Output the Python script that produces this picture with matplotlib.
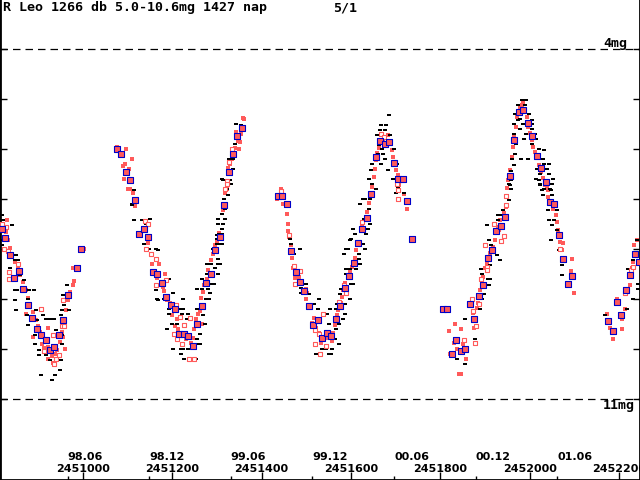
import numpy as np
import matplotlib
matplotlib.use("Agg")
import matplotlib.pyplot as plt
from matplotlib.path import Path

# R Leo light curve, JD - 2450000 and visual magnitude
JD0 = 2450000

# visual estimates (black)
vis = np.array([
    (818, 7.32), (821, 7.42), (841, 7.52), (816, 7.62), (818, 7.82), (818, 7.92),
    (843, 8.12), (850, 8.12), (848, 8.22), (854, 8.22), (836, 8.38), (859, 8.52),
    (868, 8.62), (848, 8.82), (852, 8.82), (879, 8.82), (890, 8.82), (848, 9.02),
    (877, 9.00), (850, 9.22), (895, 9.22), (874, 9.32), (910, 9.32), (877, 9.52),
    (897, 9.42), (917, 9.40), (926, 9.40), (935, 9.40), (892, 9.72), (901, 9.62),
    (892, 9.90), (901, 10.02), (917, 10.12), (901, 10.12), (926, 10.22), (951, 10.22),
    (906, 10.52), (937, 10.52), (930, 10.62), (948, 10.42), (939, 9.62), (953, 9.72),
    (953, 9.90), (951, 9.32), (953, 9.22), (968, 9.22), (957, 9.12), (964, 8.72),
    (955, 8.92),
    (1132, 7.42), (1141, 7.42), (1114, 7.42), (1110, 7.12), (1114, 6.82), (1110, 7.10),
    (1150, 7.40), (1141, 7.50), (1136, 7.90), (1148, 8.00), (1163, 8.00), (1168, 8.02),
    (1163, 8.82), (1168, 9.02), (1192, 8.60), (1166, 9.00), (1181, 9.00), (1201, 8.88),
    (1224, 9.00), (1192, 9.20), (1215, 9.20), (1224, 9.20), (1192, 9.30), (1221, 9.30),
    (1235, 9.30), (1217, 9.40), (1233, 9.40), (1199, 9.50), (1210, 9.50), (1188, 9.60),
    (1201, 10.00), (1219, 10.00), (1224, 10.00), (1235, 10.00), (1255, 9.90), (1262, 9.90),
    (1255, 9.80), (1262, 9.70), (1273, 9.50), (1219, 10.10), (1226, 10.20), (1253, 10.20),
    (1269, 9.32), (1255, 9.20), (1275, 9.00), (1282, 9.00), (1255, 8.80), (1266, 8.80),
    (1280, 8.80), (1284, 8.88), (1284, 8.70), (1293, 8.70), (1266, 8.60), (1277, 8.50),
    (1302, 8.50), (1277, 8.30), (1286, 8.30), (1302, 8.30), (1307, 8.30), (1302, 8.20),
    (1293, 8.00), (1291, 8.00), (1300, 7.90), (1304, 7.90), (1311, 7.90), (1300, 7.80),
    (1307, 7.80), (1311, 7.70), (1304, 7.70), (1295, 8.38), (1300, 7.72), (1311, 7.60),
    (1302, 7.50), (1313, 7.50), (1302, 7.40), (1318, 7.40), (1311, 7.30), (1318, 7.20),
    (1316, 7.00), (1324, 6.92), (1322, 6.80), (1331, 6.70), (1313, 6.62), (1320, 6.62),
    (1329, 6.62), (1311, 6.60), (1336, 6.40), (1327, 6.20), (1336, 6.20), (1329, 6.22),
    (1340, 5.90), (1342, 5.50), (1354, 5.52),
    (1685, 5.32), (1667, 5.52), (1678, 5.52), (1665, 5.62), (1676, 5.62), (1658, 5.72),
    (1687, 5.72), (1663, 5.92), (1669, 6.00), (1696, 6.00), (1660, 6.10), (1672, 6.10),
    (1676, 6.20), (1647, 6.30), (1667, 6.30), (1703, 6.30), (1683, 6.42), (1645, 6.42),
    (1640, 6.60), (1694, 6.60), (1647, 6.70), (1656, 6.80), (1705, 6.76), (1719, 6.88),
    (1701, 6.88), (1627, 7.00), (1631, 7.00), (1642, 7.00), (1620, 7.10), (1640, 7.20),
    (1629, 7.40), (1642, 7.50), (1638, 7.60), (1604, 7.60), (1609, 7.70), (1634, 7.70),
    (1627, 7.90), (1600, 7.80), (1486, 8.00), (1593, 8.00), (1463, 7.80), (1466, 7.90),
    (1472, 8.10), (1584, 8.10), (1589, 8.00), (1598, 7.82), (1618, 8.10), (1631, 8.00),
    (1618, 8.20), (1620, 8.30), (1611, 8.40), (1589, 8.40), (1598, 8.40), (1589, 8.50),
    (1593, 8.60), (1604, 8.70), (1577, 8.80), (1600, 8.70), (1575, 8.90), (1598, 9.00),
    (1569, 9.10), (1586, 9.10), (1566, 9.20), (1586, 9.30), (1553, 9.20), (1582, 9.40),
    (1546, 9.30), (1526, 9.20), (1517, 9.10), (1573, 9.50), (1551, 9.50), (1566, 9.60),
    (1560, 9.70), (1564, 9.80), (1573, 9.90), (1535, 10.00), (1544, 10.00), (1557, 10.00),
    (1522, 10.10), (1551, 10.10), (1555, 10.10), (1499, 8.70), (1488, 8.88), (1488, 8.78),
    (1506, 8.90), (1528, 9.00),
    (1958, 6.62), (1956, 6.72), (1949, 6.92), (1954, 7.02), (1940, 7.22), (1929, 7.32),
    (1936, 7.32), (1904, 7.52), (1929, 7.42), (1909, 7.82), (1913, 7.92), (1927, 8.12),
    (1934, 8.22), (1911, 8.32), (1891, 8.40), (1893, 8.50), (1907, 8.60), (1911, 8.60),
    (1909, 8.72), (1898, 8.90), (1893, 9.00), (1889, 9.20), (1855, 9.40), (1877, 9.80),
    (1837, 10.20), (1855, 10.30), (2021, 6.62), (2023, 6.72), (2028, 6.82), (2048, 6.82),
    (2030, 6.92), (2050, 6.92), (2041, 7.22), (2061, 7.22), (2043, 7.42), (2054, 7.42),
    (2050, 7.52), (2061, 7.62), (2066, 8.02), (2048, 7.82), (2072, 8.32), (2072, 8.52),
    (1983, 5.02), (1992, 5.02), (1974, 5.12), (1989, 5.12), (1967, 5.30), (1998, 5.30),
    (1974, 5.42), (2005, 5.42), (1965, 5.50), (1985, 5.50), (2005, 5.50), (1978, 5.60),
    (2005, 5.60), (1965, 5.70), (1992, 5.70), (2012, 5.70), (1987, 5.80), (2014, 5.80),
    (1969, 5.90), (2021, 6.00), (2032, 6.02), (1967, 6.10), (2005, 5.90), (1960, 6.20),
    (1980, 6.20), (1996, 6.20), (2023, 6.20), (2030, 6.20), (2032, 6.30), (2043, 6.30),
    (2016, 6.40), (2039, 6.40), (1965, 6.32), (1958, 6.44), (2023, 6.50), (2043, 6.50),
    (2014, 6.60), (2052, 6.60), (2023, 6.70), (2050, 6.70), (1954, 6.70), (1958, 6.80),
    (2032, 6.80), (2045, 6.80), (1978, 5.40),
    (2220, 8.40), (2231, 9.00), (2243, 8.70), (2243, 8.80), (2240, 7.82), (2218, 9.20),
    (2231, 8.22), (2169, 9.32),
])

# instrumental measurements (red filled)
ccd = np.array([
    (821, 7.52), (830, 7.42), (827, 7.66), (832, 7.82), (836, 7.98), (841, 8.12),
    (848, 8.26), (854, 8.38), (859, 8.52), (865, 8.66), (872, 8.82), (877, 8.98),
    (881, 9.12), (888, 9.26), (895, 9.42), (899, 9.54), (904, 9.66), (910, 9.76),
    (917, 9.86), (921, 9.96), (926, 10.06), (930, 10.14), (937, 10.10), (942, 10.02),
    (948, 9.86), (953, 9.66), (957, 9.46), (962, 9.22), (966, 9.02), (971, 8.86),
    (977, 8.72), (984, 8.42), (872, 9.30), (888, 9.76), (908, 9.90), (913, 9.98),
    (921, 10.20), (933, 10.28), (955, 9.76), (960, 10.00), (980, 8.64), (1002, 8.00),
    (977, 8.38), (921, 9.58),
    (1096, 6.00), (1110, 6.20), (1094, 6.30), (1089, 6.34), (1103, 6.40), (1092, 6.60),
    (1105, 6.80), (1101, 6.80), (1112, 6.88), (1114, 7.02), (1116, 7.14), (1076, 5.96),
    (1083, 6.08), (1145, 7.88), (1152, 8.10), (1154, 8.30), (1170, 8.30), (1183, 8.50),
    (1166, 8.58), (1179, 8.76), (1181, 8.84), (1188, 9.02), (1195, 9.08), (1199, 9.32),
    (1210, 9.40), (1206, 9.54), (1213, 9.60), (1221, 9.70), (1230, 9.80), (1242, 9.88),
    (1246, 9.78), (1248, 9.60), (1253, 9.40), (1257, 9.30), (1266, 9.50), (1262, 9.24),
    (1264, 8.98), (1269, 8.86), (1271, 8.72), (1277, 8.60), (1280, 8.42), (1286, 8.22),
    (1291, 8.10), (1295, 7.92), (1300, 7.84), (1304, 7.68), (1313, 7.22), (1318, 6.88),
    (1322, 6.80), (1324, 6.38), (1329, 6.30), (1333, 6.20), (1338, 6.08), (1340, 5.98),
    (1347, 5.84), (1342, 5.66), (1351, 5.86), (1360, 5.40), (1349, 6.00), (1354, 5.70),
    (1358, 5.38),
    (1443, 6.80), (1434, 7.00), (1448, 7.10), (1457, 7.30), (1459, 7.50), (1459, 7.64),
    (1461, 7.76), (1466, 7.92), (1468, 8.18), (1470, 8.38), (1479, 8.48), (1475, 8.58),
    (1483, 8.56), (1499, 8.80), (1501, 8.88), (1499, 9.00), (1517, 9.38), (1513, 9.48),
    (1522, 9.58), (1528, 9.68), (1533, 9.88), (1544, 9.78), (1551, 9.68), (1557, 9.84),
    (1560, 9.68), (1564, 9.52), (1569, 9.32), (1571, 9.22), (1577, 9.08), (1580, 8.96),
    (1582, 8.82), (1586, 8.68), (1593, 8.56), (1598, 8.46), (1602, 8.36), (1609, 8.18),
    (1611, 8.02), (1613, 7.92), (1625, 7.50), (1629, 7.42), (1636, 7.26), (1640, 7.08),
    (1645, 6.88), (1647, 6.76), (1651, 6.56), (1654, 6.40), (1656, 6.22), (1658, 6.08),
    (1663, 5.98), (1667, 5.86), (1672, 5.82), (1683, 5.72), (1687, 5.88), (1692, 6.02),
    (1694, 6.16), (1698, 6.28), (1701, 6.42), (1705, 6.52), (1707, 6.72), (1707, 7.00),
    (1719, 6.90), (1723, 7.04), (1725, 7.20), (1734, 7.80), (1533, 10.10),
    (1833, 9.50), (1846, 9.60), (1819, 9.64), (1830, 9.88), (1851, 9.90), (1837, 10.00),
    (1822, 10.10), (1857, 10.20), (1846, 10.50), (1842, 10.50), (1875, 9.58), (1873, 9.28),
    (1882, 9.18), (1884, 9.08), (1889, 8.82), (1893, 8.68), (1895, 8.56), (1900, 8.38),
    (1904, 8.28), (1911, 8.08), (1918, 7.96), (1922, 7.82), (1927, 7.68), (1929, 7.56),
    (1934, 7.42), (1942, 7.28), (1947, 7.16), (1949, 6.78), (1951, 6.62), (1956, 6.42),
    (1960, 6.16), (1963, 5.96), (1965, 5.76), (1969, 5.56), (1972, 5.36), (1978, 5.18),
    (1983, 5.12), (1985, 5.08), (1989, 5.22), (1994, 5.36), (1996, 5.56), (2001, 5.68),
    (2005, 5.82), (2007, 5.96), (2012, 6.06), (2016, 6.18), (2021, 6.32), (2025, 6.46),
    (2030, 6.58), (2034, 6.72), (2039, 6.78), (2041, 6.82), (2041, 6.96), (2052, 7.20),
    (2059, 7.32), (2061, 7.46), (2063, 7.62), (2068, 7.86), (2072, 8.02), (2075, 7.88),
    (2095, 8.20), (2093, 8.44), (2099, 8.88), (1806, 9.20), (1815, 9.20),
    (2173, 9.30), (2195, 9.00), (2213, 9.20), (2207, 9.40), (2207, 9.60), (2186, 9.80),
    (2180, 9.58), (2225, 8.72), (2229, 8.38), (2231, 8.26), (2234, 7.92), (2240, 7.82),
])

# other estimates (red open)
other = np.array([
    (818, 7.50), (827, 7.56), (823, 8.00), (834, 8.46), (834, 8.60), (854, 8.30),
    (832, 8.04), (906, 9.20), (933, 9.72), (913, 10.04), (939, 10.20), (935, 10.30),
    (946, 10.12), (955, 9.02), (953, 9.54), (957, 9.54),
    (1139, 7.44), (1145, 7.50), (1152, 8.10), (1163, 8.20), (1163, 8.72), (1141, 8.00),
    (1186, 8.62), (1208, 9.12), (1217, 9.36), (1239, 9.38), (1226, 9.52), (1204, 9.70),
    (1210, 9.80), (1221, 9.90), (1237, 10.20), (1248, 10.20), (1327, 6.26), (1322, 6.64),
    (1322, 6.70), (1333, 6.00), (1318, 6.80),
    (1443, 6.84), (1461, 7.72), (1667, 5.70), (1674, 5.76), (1703, 6.70), (1705, 6.82),
    (1705, 7.00), (1472, 8.34), (1486, 8.44), (1475, 8.70), (1584, 8.72), (1589, 8.88),
    (1573, 9.06), (1537, 9.30), (1519, 9.62), (1528, 9.70), (1519, 9.90), (1544, 9.94),
    (1530, 10.10), (1625, 7.46),
    (1947, 6.94), (1947, 7.12), (1920, 7.50), (1929, 7.60), (1942, 7.74), (1936, 7.84),
    (1900, 7.92), (1904, 8.36), (1904, 8.42), (1891, 8.60), (1886, 9.10), (1873, 9.24),
    (1880, 9.54), (1871, 9.00), (1853, 9.82), (1877, 9.88), (2068, 8.00),
    (2213, 8.88), (2227, 8.42), (2231, 8.36),
])

# 10-day means (blue frame)
means = np.array([
    (818, 7.60), (825, 7.78), (836, 8.12), (857, 8.44), (845, 8.58), (865, 8.80),
    (877, 9.12), (886, 9.38), (897, 9.60), (906, 9.72), (917, 9.82), (926, 10.02),
    (935, 9.96), (946, 9.72), (955, 9.42), (966, 8.92), (986, 8.38), (995, 8.00),
    (1076, 6.00), (1085, 6.10), (1096, 6.46), (1105, 6.62), (1116, 7.02), (1125, 7.70),
    (1136, 7.60), (1145, 7.76), (1157, 8.46), (1166, 8.50), (1177, 8.68), (1186, 8.96),
    (1197, 9.12), (1206, 9.20), (1215, 9.70), (1226, 9.70), (1235, 9.74), (1246, 9.94),
    (1255, 9.50), (1266, 9.14), (1275, 8.68), (1286, 8.50), (1295, 8.02), (1307, 7.76),
    (1316, 7.12), (1327, 6.46), (1336, 6.10), (1345, 5.74), (1356, 5.58),
    (1436, 6.94), (1445, 6.94), (1457, 7.10), (1466, 8.04), (1477, 8.46), (1486, 8.66),
    (1495, 8.84), (1506, 9.14), (1515, 9.52), (1526, 9.42), (1535, 9.78), (1546, 9.68),
    (1555, 9.74), (1566, 9.40), (1575, 9.14), (1586, 8.78), (1595, 8.54), (1607, 8.28),
    (1616, 7.88), (1625, 7.60), (1636, 7.38), (1645, 6.90), (1656, 6.16), (1665, 5.84),
    (1676, 5.90), (1685, 5.86), (1696, 6.28), (1705, 6.60), (1716, 6.60), (1725, 7.04),
    (1736, 7.80),
    (1806, 9.20), (1815, 9.20), (1826, 10.10), (1835, 9.82), (1846, 10.04), (1855, 10.00),
    (1866, 9.10), (1875, 9.40), (1886, 8.94), (1895, 8.72), (1907, 8.18), (1916, 8.02),
    (1925, 7.64), (1936, 7.54), (1945, 7.36), (1956, 6.54), (1965, 5.82), (1976, 5.26),
    (1985, 5.22), (1996, 5.48), (2005, 5.74), (2016, 6.14), (2025, 6.38), (2036, 6.66),
    (2045, 7.06), (2054, 7.10), (2066, 7.72), (2075, 8.20), (2086, 8.70), (2095, 8.54),
    (2175, 9.44), (2186, 9.64), (2195, 9.06), (2204, 9.32), (2216, 8.82), (2225, 8.52),
    (2236, 8.10), (2245, 8.26),
])

jd_ticks = [1000, 1200, 1400, 1600, 1800, 2000, 2200]
month_ticks = [965.5, 1148.5, 1330.5, 1513.5, 1696.5, 1879.5, 2061.5]
month_labels = ["98.06", "98.12", "99.06", "99.12", "00.06", "00.12", "01.06"]
title = "R Leo 1266 db 5.0-10.6mg 1427 nap"

RED = "#ff5a5a"
BLUE = "#0000c8"
FONT = dict(family="DejaVu Sans", weight="bold", size=8)
MONO = dict(family="DejaVu Sans Mono", weight="bold", size=9.5)

fig = plt.figure(figsize=(6.4, 4.8), dpi=100)
ax = fig.add_axes([0, 0, 1, 1])
ax.set_xlim(814.2, 2247.0)
ax.set_ylim(12.62, 3.02)

# limit lines
for m in (4, 11):
    ax.axhline(m, color="black", lw=0.9, dashes=(6, 4), zorder=1)

rect = Path([(-1.5, -1), (1.5, -1), (1.5, 1), (-1.5, 1), (-1.5, -1)],
            [Path.MOVETO, Path.LINETO, Path.LINETO, Path.LINETO, Path.CLOSEPOLY])

ax.scatter(ccd[:, 0], ccd[:, 1], marker="s", s=11, color=RED, lw=0, zorder=2)
ax.scatter(vis[:, 0], vis[:, 1], marker=rect, s=5, color="black", lw=0, zorder=3)
ax.scatter(other[:, 0], other[:, 1], marker="s", s=6, facecolor="white",
           edgecolor=RED, lw=0.8, zorder=4)
ax.scatter(means[:, 0], means[:, 1], marker="s", s=19, facecolor=RED,
           edgecolor=BLUE, lw=0.8, zorder=5)

# axes frame
ax.spines["top"].set_visible(False)
for side in ("left", "right", "bottom"):
    ax.spines[side].set_linewidth(2)
    ax.spines[side].set_color("black")

ax.set_yticks(range(4, 12))
ax.tick_params(axis="y", which="both", direction="in", length=5, width=1,
               left=True, right=True, labelleft=False, labelright=False)
ax.set_xticks(jd_ticks)
ax.set_xticks(month_ticks, minor=True)
ax.tick_params(axis="x", which="major", direction="in", length=6, width=1,
               labelbottom=False)
ax.tick_params(axis="x", which="minor", direction="in", length=3, width=1)

trans = ax.get_xaxis_transform()
for t in jd_ticks:
    ax.text(t, 1 - 469 / 480, str(JD0 + t), transform=trans, ha="center",
            va="center", **FONT)
for t, lab in zip(month_ticks, month_labels):
    ax.text(t, 1 - 457 / 480, lab, transform=trans, ha="left",
            va="center", **FONT)

ax.text(3 / 640, 1 - 8 / 480, title, transform=ax.transAxes, ha="left",
        va="center", **MONO)
ax.text(333 / 640, 1 - 8 / 480, "5/1", transform=ax.transAxes, ha="left",
        va="center", **MONO)
ax.text(603 / 640, 1 - 43 / 480, "4mg", transform=ax.transAxes, ha="left",
        va="center", **MONO)
ax.text(603 / 640, 1 - 405 / 480, "11mg", transform=ax.transAxes, ha="left",
        va="center", **MONO)

fig.savefig("out.png", dpi=100)
